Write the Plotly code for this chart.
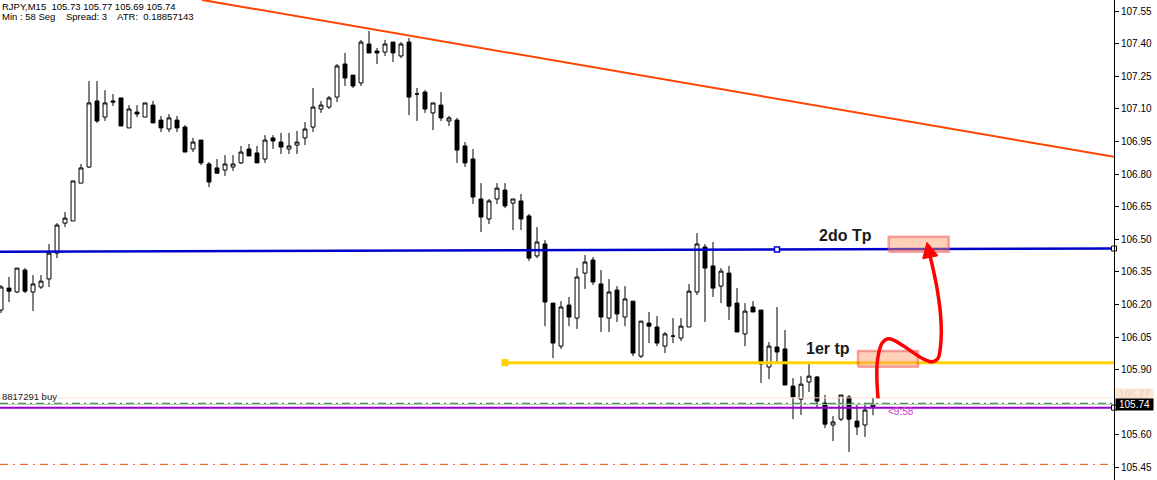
import plotly.graph_objects as go

# ---------------- data ----------------
opens = [106.174, 106.275, 106.257, 106.358, 106.257, 106.280, 106.317, 106.436, 106.574, 106.584,
         106.758, 106.832, 107.136, 107.062, 107.136, 107.150, 107.012, 107.085, 107.062, 107.117,
         107.048, 107.007, 107.048, 107.016, 106.915, 106.956, 106.846, 106.828, 106.818, 106.832,
         106.851, 106.915, 106.897, 106.869, 106.966, 106.947, 106.915, 106.933, 106.966, 107.016,
         107.099, 107.108, 107.154, 107.306, 107.255, 107.219, 107.398, 107.366, 107.361, 107.407,
         107.343, 107.407, 107.168, 107.177, 107.081, 107.117, 107.044, 107.048, 106.929, 106.869,
         106.685, 106.593, 106.685, 106.726, 106.666, 106.676, 106.607, 106.423, 106.478, 106.206,
         106.008, 106.197, 106.137, 106.344, 106.404, 106.294, 106.137, 106.266, 106.142, 106.215,
         105.962, 106.114, 106.096, 106.008, 106.054, 106.045, 106.096, 106.257, 106.464, 106.377,
         106.284, 106.344, 106.206, 106.064, 106.188, 106.174, 105.912, 106.004, 105.995, 105.824,
         105.764, 105.843, 105.866, 105.746, 105.645, 105.672, 105.774, 105.663, 105.645, 105.730]
highs = [106.289, 106.326, 106.367, 106.367, 106.335, 106.335, 106.478, 106.574, 106.625, 106.768,
         106.846, 107.228, 107.228, 107.186, 107.168, 107.150, 107.117, 107.117, 107.127, 107.136,
         107.067, 107.076, 107.067, 107.025, 106.966, 106.956, 106.855, 106.869, 106.887, 106.887,
         106.929, 106.938, 106.929, 106.979, 106.979, 106.989, 106.989, 106.998, 107.039, 107.196,
         107.136, 107.159, 107.306, 107.357, 107.255, 107.417, 107.458, 107.380, 107.417, 107.407,
         107.407, 107.426, 107.196, 107.186, 107.127, 107.177, 107.067, 107.058, 106.947, 106.915,
         106.758, 106.685, 106.758, 106.758, 106.685, 106.708, 106.616, 106.556, 106.496, 106.206,
         106.215, 106.234, 106.367, 106.427, 106.418, 106.358, 106.317, 106.284, 106.284, 106.215,
         106.123, 106.165, 106.146, 106.073, 106.137, 106.137, 106.294, 106.528, 106.478, 106.487,
         106.367, 106.377, 106.275, 106.206, 106.215, 106.174, 106.027, 106.188, 106.082, 105.861,
         105.870, 105.926, 105.870, 105.783, 105.686, 105.783, 105.783, 105.737, 105.746, 105.770]
lows = [106.160, 106.211, 106.252, 106.252, 106.169, 106.271, 106.280, 106.413, 106.556, 106.584,
        106.758, 106.828, 107.035, 107.044, 107.113, 107.021, 107.012, 107.062, 107.062, 107.035,
        106.993, 106.993, 106.993, 106.901, 106.901, 106.841, 106.740, 106.800, 106.791, 106.814,
        106.846, 106.883, 106.851, 106.851, 106.915, 106.892, 106.892, 106.892, 106.933, 106.993,
        107.081, 107.099, 107.131, 107.205, 107.196, 107.205, 107.357, 107.306, 107.343, 107.315,
        107.334, 107.071, 107.044, 107.081, 107.002, 107.044, 107.021, 106.851, 106.832, 106.662,
        106.533, 106.570, 106.662, 106.643, 106.542, 106.542, 106.400, 106.413, 106.100, 105.953,
        105.995, 106.100, 106.087, 106.271, 106.289, 106.073, 106.073, 106.119, 106.100, 105.962,
        105.953, 106.022, 106.008, 105.976, 106.022, 106.031, 106.096, 106.243, 106.119, 106.234,
        106.206, 106.128, 106.073, 106.008, 106.165, 105.838, 105.856, 105.930, 105.829, 105.672,
        105.691, 105.797, 105.723, 105.631, 105.571, 105.663, 105.521, 105.599, 105.590, 105.690]
closes = [106.280, 106.261, 106.367, 106.261, 106.294, 106.307, 106.436, 106.565, 106.597, 106.768,
          106.828, 107.127, 107.044, 107.127, 107.131, 107.021, 107.099, 107.076, 107.127, 107.035,
          107.012, 107.058, 107.012, 106.901, 106.947, 106.851, 106.763, 106.804, 106.846, 106.846,
          106.901, 106.883, 106.851, 106.956, 106.952, 106.924, 106.929, 106.947, 107.007, 107.108,
          107.117, 107.150, 107.297, 107.242, 107.205, 107.407, 107.357, 107.357, 107.398, 107.357,
          107.398, 107.154, 107.168, 107.099, 107.127, 107.058, 107.058, 106.910, 106.851, 106.694,
          106.602, 106.676, 106.735, 106.653, 106.685, 106.593, 106.413, 106.487, 106.211, 106.022,
          106.188, 106.142, 106.326, 106.395, 106.303, 106.142, 106.257, 106.156, 106.225, 105.976,
          106.123, 106.100, 106.022, 106.064, 106.054, 106.100, 106.261, 106.478, 106.367, 106.275,
          106.353, 106.192, 106.073, 106.169, 106.165, 105.926, 106.008, 105.981, 105.829, 105.774,
          105.833, 105.870, 105.755, 105.649, 105.659, 105.783, 105.672, 105.636, 105.714, 105.740]
bars = list(range(len(opens)))

tick_vals = [107.55, 107.40, 107.25, 107.10, 106.95, 106.80, 106.65, 106.50, 106.35, 106.20,
             106.05, 105.90, 105.60, 105.45]
tick_text = ["107.55", "107.40", "107.25", "107.10", "106.95", "106.80", "106.65", "106.50",
             "106.35", "106.20", "106.05", "105.90", "105.60", "105.45"]

x_range = [-0.125, 139.125]
y_range = [105.392, 107.6006]

# drawn objects (bar index, price)
resist_x = [25.125, 139.125]
resist_y = [107.601, 106.879]
tp2_line_x = [-0.125, 139.125]
tp2_line_y = [106.442, 106.457]
tp2_anchor = (97, 106.453)
tp1_line_x = [63, 139.125]
tp1_price = 105.932
buy_price = 105.725
entry_price = 105.745
bid_price = 105.74
ask_price = 105.77
low_line_price = 105.464

box1_x = [107.125, 114.625]
box1_y = [105.913, 105.985]
box2_x = [110.96, 118.46]
box2_y = [106.442, 106.511]

path_x = [109.625, 109.5, 109.5, 109.71, 110.125, 110.75, 111.59, 112.625, 113.875, 115.125,
          116.375, 117.125, 117.41, 117.54, 117.41, 117.0, 116.59, 116.16]
path_y = [105.768, 105.844, 105.921, 105.975, 106.021, 106.041, 106.036, 106.013, 105.982, 105.952,
          105.936, 105.952, 105.998, 106.074, 106.166, 106.274, 106.350, 106.419]
head_x = [115.75, 115.21, 117.125, 115.75]
head_y = [106.485, 106.410, 106.424, 106.485]

header1 = "RJPY,M15  105.73 105.77 105.69 105.74"
header2 = "Min : 58 Seg    Spread: 3    ATR:  0.18857143"
order_label = "8817291 buy"
timer_label = "<9:58"

# ---------------- figure ----------------
fig = go.Figure()

fig.add_trace(go.Candlestick(
    x=bars, open=opens, high=highs, low=lows, close=closes,
    increasing=dict(line=dict(color="black", width=1), fillcolor="white"),
    decreasing=dict(line=dict(color="black", width=1), fillcolor="black"),
    whiskerwidth=0, hoverinfo="skip", showlegend=False))

def hline(xs, ys, color, width, dash="solid"):
    fig.add_trace(go.Scatter(x=xs, y=ys, mode="lines", line=dict(color=color, width=width, dash=dash),
                             hoverinfo="skip", showlegend=False, cliponaxis=True))

full = [x_range[0], x_range[1]]
hline(full, [ask_price, ask_price], "#F7E3D3", 1)
hline(full, [bid_price, bid_price], "#BDBDBD", 1)
hline(full, [entry_price, entry_price], "#1E7A1E", 1, "8px,4px,2px,4px")
hline(full, [low_line_price, low_line_price], "#FF4500", 1, "8px,5px,2px,5px")
hline(full, [buy_price, buy_price], "#9400D3", 2)
hline(resist_x, resist_y, "#FF4500", 2)
hline(tp2_line_x, tp2_line_y, "#0000CD", 2.5)
hline(tp1_line_x, [tp1_price, tp1_price], "#FFD200", 3)

# anchors
fig.add_trace(go.Scatter(x=[tp1_line_x[0]], y=[tp1_price], mode="markers",
                         marker=dict(symbol="square", size=7, color="#FFD200",
                                     line=dict(color="#FFD200", width=0)),
                         hoverinfo="skip", showlegend=False))
fig.add_trace(go.Scatter(x=[tp2_anchor[0]], y=[tp2_anchor[1]], mode="markers",
                         marker=dict(symbol="square", size=5, color="white",
                                     line=dict(color="#0000CD", width=1.5)),
                         hoverinfo="skip", showlegend=False))
fig.add_trace(go.Scatter(x=[x_range[1], x_range[1]], y=[tp2_line_y[1], buy_price], mode="markers",
                         marker=dict(symbol="square", size=5, color="white",
                                     line=dict(color="black", width=1)),
                         hoverinfo="skip", showlegend=False, cliponaxis=False))

# highlighted boxes
for bx, by in [(box1_x, box1_y), (box2_x, box2_y)]:
    fig.add_trace(go.Scatter(x=[bx[0], bx[1], bx[1], bx[0], bx[0]],
                             y=[by[0], by[0], by[1], by[1], by[0]],
                             mode="lines", fill="toself", fillcolor="rgba(255,150,100,0.45)",
                             line=dict(color="rgba(240,80,80,0.5)", width=2.5),
                             hoverinfo="skip", showlegend=False))

# red arrow
fig.add_trace(go.Scatter(x=path_x, y=path_y, mode="lines",
                         line=dict(color="#FF0000", width=3.5, shape="spline", smoothing=1.0),
                         hoverinfo="skip", showlegend=False))
fig.add_trace(go.Scatter(x=head_x, y=head_y, mode="lines", fill="toself", fillcolor="#FF0000",
                         line=dict(color="#FF0000", width=1), hoverinfo="skip", showlegend=False))

annotations = [
    dict(text=header1, xref="paper", yref="paper", x=0, y=1, xanchor="left", yanchor="top",
         yshift=1, showarrow=False, font=dict(family="Liberation Sans", size=9.5, color="black")),
    dict(text=header2, xref="paper", yref="paper", x=0, y=1, xanchor="left", yanchor="top",
         yshift=-9, showarrow=False, font=dict(family="Liberation Sans", size=9.5, color="black")),
    dict(text=order_label, xref="paper", yref="y", x=0, y=entry_price, xanchor="left", yanchor="bottom",
         yshift=-1, showarrow=False, font=dict(family="Liberation Sans", size=9.5, color="#222222")),
    dict(text=timer_label, xref="x", yref="y", x=110.6, y=105.705, xanchor="left", yanchor="middle",
         showarrow=False, font=dict(family="Liberation Sans", size=10, color="#D040D0")),
    dict(text="<b>2do Tp</b>", xref="x", yref="y", x=105.5, y=106.519, xanchor="center", yanchor="middle",
         showarrow=False, font=dict(family="Liberation Sans", size=16, color="#1A1A1A")),
    dict(text="<b>1er tp</b>", xref="x", yref="y", x=103.4, y=105.995, xanchor="center", yanchor="middle",
         showarrow=False, font=dict(family="Liberation Sans", size=16, color="#1A1A1A")),
    dict(text="105.77", xref="paper", yref="y", x=1, y=ask_price, xanchor="left", yanchor="middle",
         xshift=1, yshift=3, showarrow=False, bgcolor="#FCE6D4", borderpad=0, width=37,
         font=dict(family="Liberation Sans", size=10, color="#EBCDB8")),
    dict(text="105.74", xref="paper", yref="y", x=1, y=bid_price, xanchor="left", yanchor="middle",
         xshift=1, showarrow=False, bgcolor="black", borderpad=0, width=37,
         font=dict(family="Liberation Sans", size=10, color="white")),
]

fig.update_layout(
    width=1157, height=480,
    margin=dict(l=0, r=43, t=0, b=0),
    paper_bgcolor="white", plot_bgcolor="white",
    showlegend=False,
    annotations=annotations,
    xaxis=dict(range=x_range, visible=False, rangeslider=dict(visible=False), fixedrange=True),
    yaxis=dict(range=y_range, side="right", showgrid=False, zeroline=False,
               showline=True, linecolor="black", linewidth=1,
               ticks="outside", ticklen=4, tickcolor="black", tickwidth=1,
               tickvals=tick_vals, ticktext=tick_text,
               tickfont=dict(family="Liberation Sans", size=10, color="black")),
)

fig.write_html("out.html", config={"displayModeBar": False},
               post_script="document.body.style.margin='0';document.body.style.overflow='hidden';")
